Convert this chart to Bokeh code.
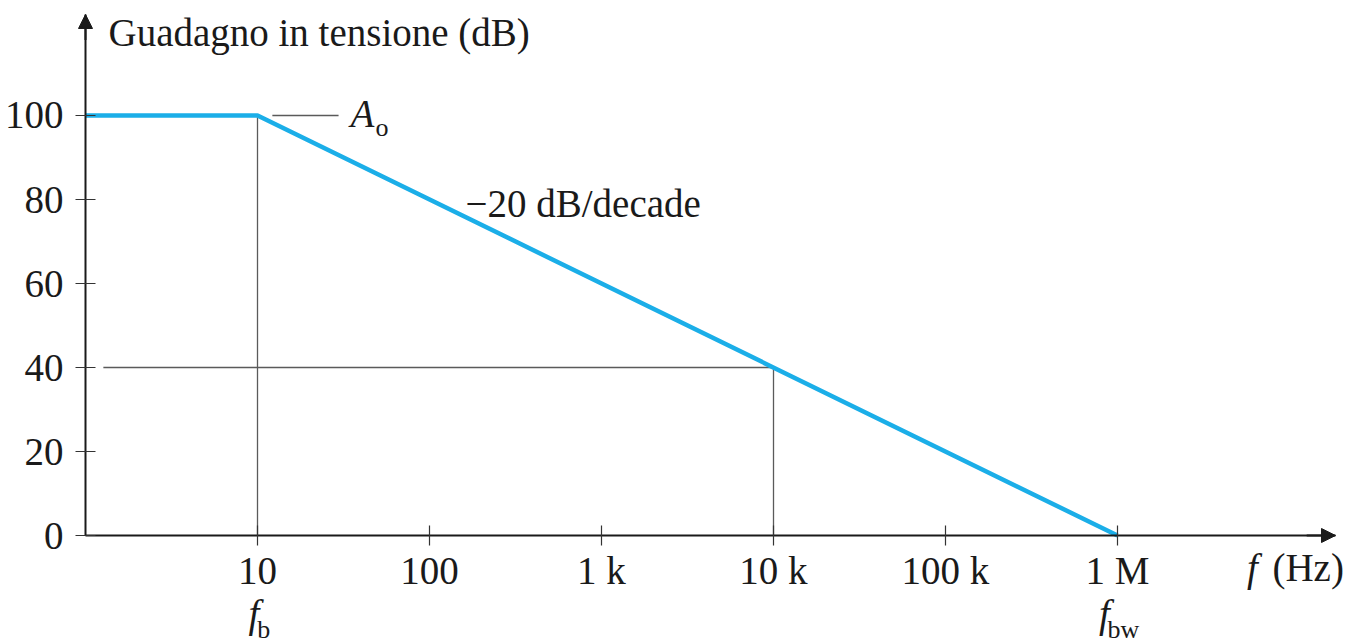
from bokeh.plotting import figure
from bokeh.models import (Range1d, LogAxis, LinearAxis, FixedTicker, Label, Arrow,
                          NormalHead, CustomJSTickFormatter)
from bokeh.embed import file_html
from bokeh.resources import INLINE

# ---- data ----
freq_hz = [1, 10, 1e6]
gain_db = [100, 100, 0]
x_ticks = [10, 100, 1000, 10000, 100000, 1000000]
x_tick_labels = ["10", "100", "1 k", "10 k", "100 k", "1 M"]
y_ticks = [0, 20, 40, 60, 80, 100]
y_tick_labels = ["0", "20", "40", "60", "80", "100"]
f_b = 10
f_bw = 1e6
f_mark = 1e4
gain_mark = 40
A_o = 100

# view ranges (the frame fills the whole canvas; axes are pinned at x=1 / y=0)
X_MIN, X_MAX = 10 ** -0.4942, 10 ** 7.3256
Y_MIN, Y_MAX = -25.95, 127.38
X_AXIS_END = 10 ** 7.2674
Y_AXIS_END = 124.05

FONT = "Liberation Serif"
TXT = "#1a1a1a"
GUIDE = "#5a5a5a"
BLUE = "#1BAEE8"
FS = "39px"
FS_SUB = "26px"

p = figure(width=1345, height=644, x_axis_type="log",
           x_range=Range1d(X_MIN, X_MAX), y_range=Range1d(Y_MIN, Y_MAX),
           output_backend="svg", toolbar_location=None,
           x_axis_location=None, y_axis_location=None,
           min_border_left=0, min_border_right=0, min_border_top=0, min_border_bottom=0)
p.grid.visible = False
p.outline_line_color = None
p.background_fill_color = "white"
p.border_fill_color = "white"

def style_axis(ax, standoff):
    ax.axis_line_width = 2
    ax.axis_line_color = "#1a1a1a"
    ax.major_tick_in = 10
    ax.major_tick_out = 10
    ax.major_tick_line_width = 1.2
    ax.major_tick_line_color = "#333333"
    ax.minor_tick_line_color = None
    ax.major_label_text_font = FONT
    ax.major_label_text_font_size = FS
    ax.major_label_text_color = TXT
    ax.major_label_standoff = standoff

fmt_code = """
const i = tv.findIndex(t => Math.abs(t - tick) <= 1e-6 * Math.max(1, Math.abs(t)));
return i >= 0 ? tl[i] : '';
"""
xaxis = LogAxis(ticker=FixedTicker(ticks=x_ticks), fixed_location=0, bounds=(1, X_AXIS_END),
                formatter=CustomJSTickFormatter(args=dict(tv=x_ticks, tl=x_tick_labels), code=fmt_code))
style_axis(xaxis, 3)
p.add_layout(xaxis, "below")

yaxis = LinearAxis(ticker=FixedTicker(ticks=y_ticks), fixed_location=1, bounds=(0, Y_AXIS_END),
                   formatter=CustomJSTickFormatter(args=dict(tv=y_ticks, tl=y_tick_labels), code=fmt_code))
style_axis(yaxis, 12)
p.add_layout(yaxis, "left")

# guide lines
p.line([f_b, f_b], [0, A_o], line_color=GUIDE, line_width=1.3)
p.line([1.27, f_mark], [gain_mark, gain_mark], line_color=GUIDE, line_width=1.3)
p.line([f_mark, f_mark], [0, gain_mark], line_color=GUIDE, line_width=1.3)
p.line([12.2, 29.6], [A_o, A_o], line_color=GUIDE, line_width=1.3)

# response
p.line(freq_hz, gain_db, line_color=BLUE, line_width=4.5)

# axis arrows
head = dict(size=14, fill_color="#1a1a1a", line_color="#1a1a1a")
p.add_layout(Arrow(end=NormalHead(**head), x_start=10 ** 7.1, y_start=0,
                   x_end=X_AXIS_END, y_end=0, line_width=2, line_color="#1a1a1a"))
p.add_layout(Arrow(end=NormalHead(**head), x_start=1, y_start=118,
                   x_end=1, y_end=Y_AXIS_END, line_width=2, line_color="#1a1a1a"))

def lab(x, y, text, size=FS, style="normal", align="left", base="middle"):
    p.add_layout(Label(x=x, y=y, text=text, text_font=FONT, text_font_size=size,
                       text_font_style=style, text_color=TXT, text_align=align,
                       text_baseline=base))

lab(1.36, 119.8, "Guadagno in tensione (dB)")
lab(161.9, 79.1, "\u221220 dB/decade")
lab(34.7, 100.5, "A", style="italic")
lab(48.5, 97.2, "o", size=FS_SUB)
lab(9.54, -18.6, "f", style="italic", align="center")
lab(9.95, -22.3, "b", size=FS_SUB)
lab(8.40e5, -18.6, "f", style="italic", align="center")
lab(8.75e5, -22.3, "bw", size=FS_SUB)
lab(6.09e6, -7.6, "f", style="italic", align="center")
lab(7.96e6, -7.6, "(Hz)")

open("out.html", "w").write(file_html(p, INLINE))
